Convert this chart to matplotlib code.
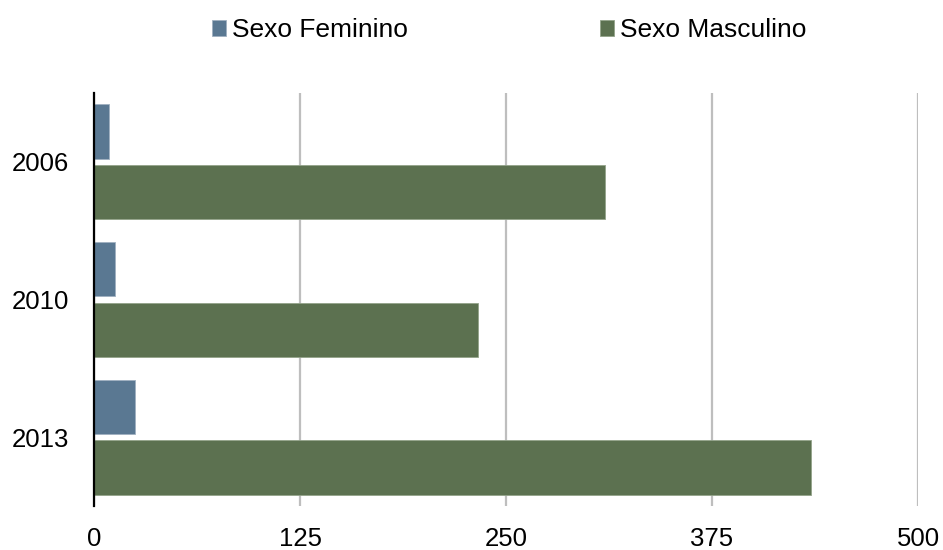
import numpy as np
import matplotlib
matplotlib.use("Agg")
import matplotlib.pyplot as plt

# -----------------------------------------------
# DATOS
# -----------------------------------------------
anos = ["2006", "2010", "2013"]
feminino = [9, 13, 25]
masculino = [310, 233, 435]
x_ticks = [0, 125, 250, 375, 500]

plt.rcParams["font.family"] = ["Liberation Sans", "DejaVu Sans"]

fig = plt.figure(figsize=(9.43, 5.5), dpi=100)
ax = fig.add_axes([0.0997, 0.08, 0.8738, 0.751])

y = np.arange(len(anos))
offset = 0.22
h = 0.395

ax.barh(y - offset, feminino, height=h, color="#5A7892",
        edgecolor="#9fb0c0", linewidth=0.6, label="Sexo Feminino", zorder=3)
ax.barh(y + offset, masculino, height=h, color="#5C7150",
        edgecolor="#93a38a", linewidth=0.6, label="Sexo Masculino", zorder=3)

ax.set_xlim(0, 500)
ax.set_ylim(len(anos) - 0.5, -0.5)
ax.set_xticks(x_ticks)
ax.set_xticklabels([str(t) for t in x_ticks])
ax.set_yticks(y)
ax.set_yticklabels(anos)
ax.tick_params(axis="both", length=0, labelsize=18.5)
ax.tick_params(axis="x", pad=15)
ax.tick_params(axis="y", pad=18)

ax.xaxis.grid(True, color="#BEBEBE", linewidth=1.6, zorder=0)
ax.set_axisbelow(True)
for side in ["top", "right", "bottom"]:
    ax.spines[side].set_visible(False)
ax.spines["left"].set_linewidth(1.6)
ax.spines["left"].set_color("black")
ax.spines["left"].set_zorder(4)

fig.legend(loc="center", bbox_to_anchor=(0.540, 0.945), ncol=2, frameon=False,
           fontsize=19, handlelength=0.53, handleheight=0.53,
           handletextpad=0.23, columnspacing=7.3)

plt.savefig("out.png", dpi=100)
